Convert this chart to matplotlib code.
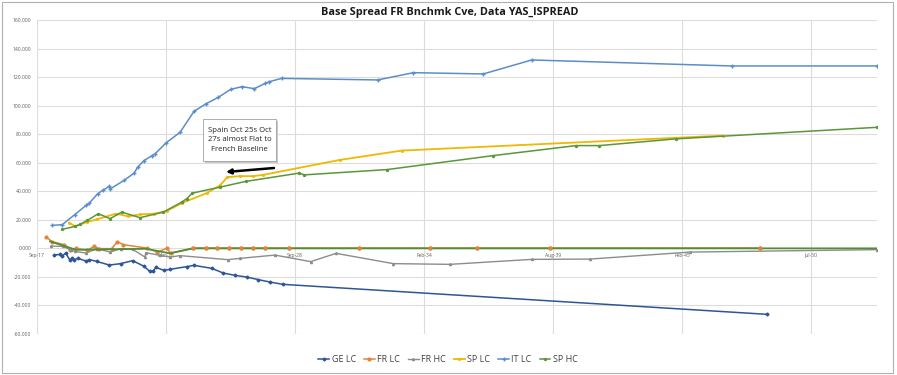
import matplotlib
matplotlib.use("Agg")
import matplotlib.pyplot as plt
from matplotlib.patches import Rectangle

plt.rcParams['font.family'] = ['Open Sans', 'DejaVu Sans']

# x = days after the axis start (Sep-17)
x_ticks = [0, 2000, 4000, 6000, 8000, 10000, 12000]
x_tick_labels = ["Sep-17", "Mar-23", "Sep-28", "Feb-34", "Aug-39", "Feb-45", "Jul-50"]
y_ticks = [-60, -40, -20, 0, 20, 40, 60, 80, 100, 120, 140, 160]

ge_x = [268, 357, 383, 445, 512, 538, 574, 636, 760, 811, 925, 1121, 1297, 1483, 1659, 1747,
        1803, 1840, 1969, 2062, 2320, 2434, 2708, 2888, 3069, 3250, 3430, 3612, 3808, 11310]
ge_y = [-4.7, -4.2, -5.6, -3.3, -8.4, -6.8, -7.9, -7.0, -8.9, -7.9, -9.1, -11.7, -10.7, -8.6,
        -12.6, -16.1, -15.9, -13.3, -15.4, -14.7, -12.8, -11.9, -14.0, -17.3, -18.9, -20.1,
        -21.9, -23.6, -25.2, -46.2]

frlc_x = [140, 237, 419, 512, 605, 780, 884, 966, 1158, 1245, 1338, 1700, 1865, 2010, 2072,
          2423, 2615, 2795, 2981, 3167, 3353, 3534, 3901, 4996, 6092, 6825, 7952, 11207]
frlc_y = [7.9, 4.7, 2.6, -0.9, 0.0, -1.4, 1.4, -0.2, -0.2, 4.7, 2.6, 0.2, -2.6, 0.0, -3.3,
          0.2, 0.2, 0.2, 0.2, 0.2, 0.2, 0.2, 0.2, 0.2, 0.2, 0.2, 0.2, 0.2]

frhc_x = [213, 408, 527, 589, 760, 925, 1132, 1297, 1483, 1674, 1685, 1906, 2062, 2217, 2955,
          3147, 3689, 4242, 4635, 5524, 6402, 7673, 8571, 10118, 13015]
frhc_y = [1.6, 1.4, -1.4, -2.1, -3.3, -0.2, -2.6, -0.2, -0.7, -6.1, -3.0, -4.9, -6.1, -5.1,
          -7.9, -7.0, -4.7, -9.3, -3.5, -10.7, -11.2, -7.7, -7.5, -2.6, -0.9]

splc_x = [501, 589, 770, 925, 1225, 1416, 1597, 1814, 2010, 2243, 2631, 2836, 2950, 3147,
          3342, 3508, 4697, 5653, 10638]
splc_y = [18.0, 15.4, 18.4, 20.3, 24.3, 22.4, 23.8, 24.3, 26.1, 31.7, 38.7, 44.1, 49.9, 50.6,
          50.6, 51.5, 62.0, 68.5, 79.0]

it_x = [237, 392, 584, 760, 811, 941, 1018, 1121, 1136, 1349, 1504, 1561, 1659, 1778, 1829,
        2000, 2217, 2434, 2615, 2810, 3002, 3178, 3368, 3539, 3601, 3793, 5281, 5833, 6918,
        7668, 10768, 13015]
it_y = [16.1, 16.6, 23.6, 30.1, 31.7, 38.3, 40.6, 43.4, 41.7, 47.6, 52.7, 56.9, 61.5, 64.8,
        66.2, 73.9, 81.3, 96.0, 101.2, 105.8, 111.4, 113.3, 111.9, 115.6, 116.8, 119.1, 118.0,
        123.1, 122.2, 132.0, 127.8, 127.8]

sphc_x = [392, 589, 667, 780, 951, 1132, 1313, 1597, 1958, 2243, 2320, 2407, 2836, 3235,
          4061, 4146, 5427, 7073, 8354, 8715, 9899, 13015]
sphc_y = [13.3, 15.4, 16.8, 19.6, 24.3, 20.8, 25.4, 21.5, 25.4, 32.4, 34.8, 38.7, 42.9, 46.9,
          52.7, 51.5, 55.2, 65.0, 72.0, 72.0, 76.7, 84.8]

base_x = [202, 605, 1690, 2062, 2418, 13020]
base_y = [4.9, -1.0, -0.3, -3.5, 0.0, 0.0]

W, H = 897, 375
fig = plt.figure(figsize=(W / 100, H / 100), dpi=100)
L, R, T, B = 37, 877, 20, 334
ax = fig.add_axes([L / W, 1 - B / H, (R - L) / W, (B - T) / H])

ax.set_xlim(0, 13020)
ax.set_ylim(-60, 160)

ms = 2.0
ax.plot(ge_x, ge_y, color='#2e5597', lw=1.1, marker='D', ms=1.5, label='GE LC', zorder=3)
ax.plot(frlc_x, frlc_y, color='#e3843c', lw=1.1, marker='o', ms=ms, label='FR LC', zorder=3)
ax.plot(frhc_x, frhc_y, color='#8c8c8c', lw=1.0, marker='^', ms=1.5, label='FR HC', zorder=3)
ax.plot(splc_x, splc_y, color='#f0b800', lw=1.3, marker='x', ms=1.5, label='SP LC', zorder=3)
ax.plot(it_x, it_y, color='#5b8ec9', lw=1.1, marker='+', ms=2.2, label='IT LC', zorder=3)
ax.plot(sphc_x, sphc_y, color='#5a963a', lw=1.1, marker='o', ms=1.4, label='SP HC', zorder=3)
ax.plot(base_x, base_y, color='#4f8f2f', lw=1.3, zorder=4)
ax.plot(frlc_x[15:], frlc_y[15:], color='#e3843c', lw=0, marker='o', ms=ms, zorder=5)

ax.set_xticks(x_ticks)
ax.set_xticklabels(x_tick_labels)
ax.set_yticks(y_ticks)
ax.set_yticklabels([f"{v:.3f}" for v in y_ticks])
ax.grid(True, color='#dcdcdc', lw=0.8, zorder=0)
ax.set_axisbelow(True)
for s in ax.spines.values():
    s.set_visible(False)
ax.spines['bottom'].set_position(('data', 0))
ax.tick_params(axis='both', length=0, labelsize=3.6, colors='#606060')
ax.tick_params(axis='x', pad=3)
ax.tick_params(axis='y', pad=4)

fig.text(450 / W, 1 - 12 / H, "Base Spread FR Bnchmk Cve, Data YAS_ISPREAD",
         ha='center', va='center', fontsize=7.8, fontweight='bold', color='#1a1a1a')

leg = fig.legend(loc='center', bbox_to_anchor=(448 / W, 1 - 360 / H), ncol=6, frameon=False,
                 fontsize=6.5, handlelength=1.2, handletextpad=0.25, columnspacing=0.9,
                 labelcolor='#404040')

# annotation box with shadow
bx0, by0, bx1, by1 = 203, 119, 276, 161
fig.add_artist(Rectangle(((bx0 + 2) / W, 1 - (by1 + 2) / H), (bx1 - bx0) / W, (by1 - by0) / H,
                         transform=fig.transFigure, fc='#c8c8c8', ec='none', zorder=6))
fig.add_artist(Rectangle((bx0 / W, 1 - by1 / H), (bx1 - bx0) / W, (by1 - by0) / H,
                         transform=fig.transFigure, fc='white', ec='#a0a0a0', lw=0.6, zorder=7))
fig.text((bx0 + bx1) / 2 / W, 1 - 140 / H, "Spain Oct 25s Oct\n27s almost Flat to\nFrench Baseline",
         ha='center', va='center', fontsize=5.6, color='#262626', linespacing=1.45, zorder=8)

ax.annotate('', xy=(226, H - 172), xycoords='figure pixels', xytext=(274, H - 168),
            textcoords='figure pixels',
            arrowprops=dict(arrowstyle='-|>', color='black', lw=1.8, mutation_scale=7,
                            shrinkA=0, shrinkB=0), zorder=9)

fig.add_artist(Rectangle((2 / W, 2 / H), 891 / W, 371 / H, transform=fig.transFigure,
                         fill=False, ec='#b0b0b0', lw=0.8))

fig.savefig("out.png", dpi=100)
